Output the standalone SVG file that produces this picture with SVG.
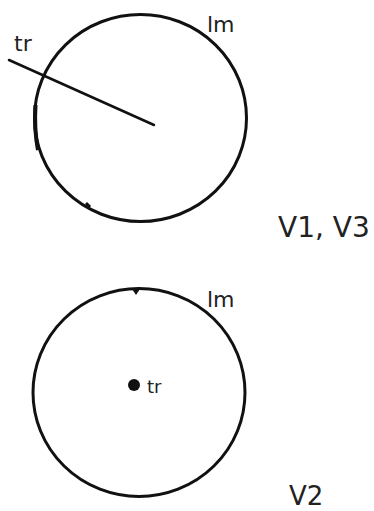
<svg xmlns="http://www.w3.org/2000/svg" width="374" height="511" viewBox="0 0 374 511">
<style>
.c{fill:none;stroke:#111;stroke-width:3}
.l{stroke:#111;stroke-width:2.5;stroke-linecap:round}
.t{font-family:"DejaVu Sans","Liberation Sans",sans-serif;fill:#222}
</style>
<rect width="374" height="511" fill="#fff"/>
<g id="v1v3">
<ellipse class="c" cx="140.5" cy="118" rx="106" ry="103.5"/>
<path d="M35.5 105 Q34 130 38 150" stroke="#111" stroke-width="4" fill="none"/>
<path d="M86 203 L90 207" stroke="#111" stroke-width="3"/>
<text class="t" x="14" y="51" font-size="22">tr</text>
<text class="t" x="207" y="32" font-size="22">lm</text>
<text class="t" x="278" y="237" font-size="28">V1, V3</text>
</g>
<g id="v2">
<ellipse class="c" cx="139" cy="392.5" rx="106" ry="104"/>
<path d="M132 289 L136 295 L140 289 Z" fill="#111"/>
<circle cx="134" cy="385" r="6" fill="#111"/>
<text class="t" x="147" y="393" font-size="18">tr</text>
<text class="t" x="207" y="307" font-size="22">lm</text>
<text class="t" x="289" y="505" font-size="26">V2</text>
</g>
<g id="connectors">
<line class="l" x1="9" y1="60" x2="154" y2="125"/>
</g>
</svg>
